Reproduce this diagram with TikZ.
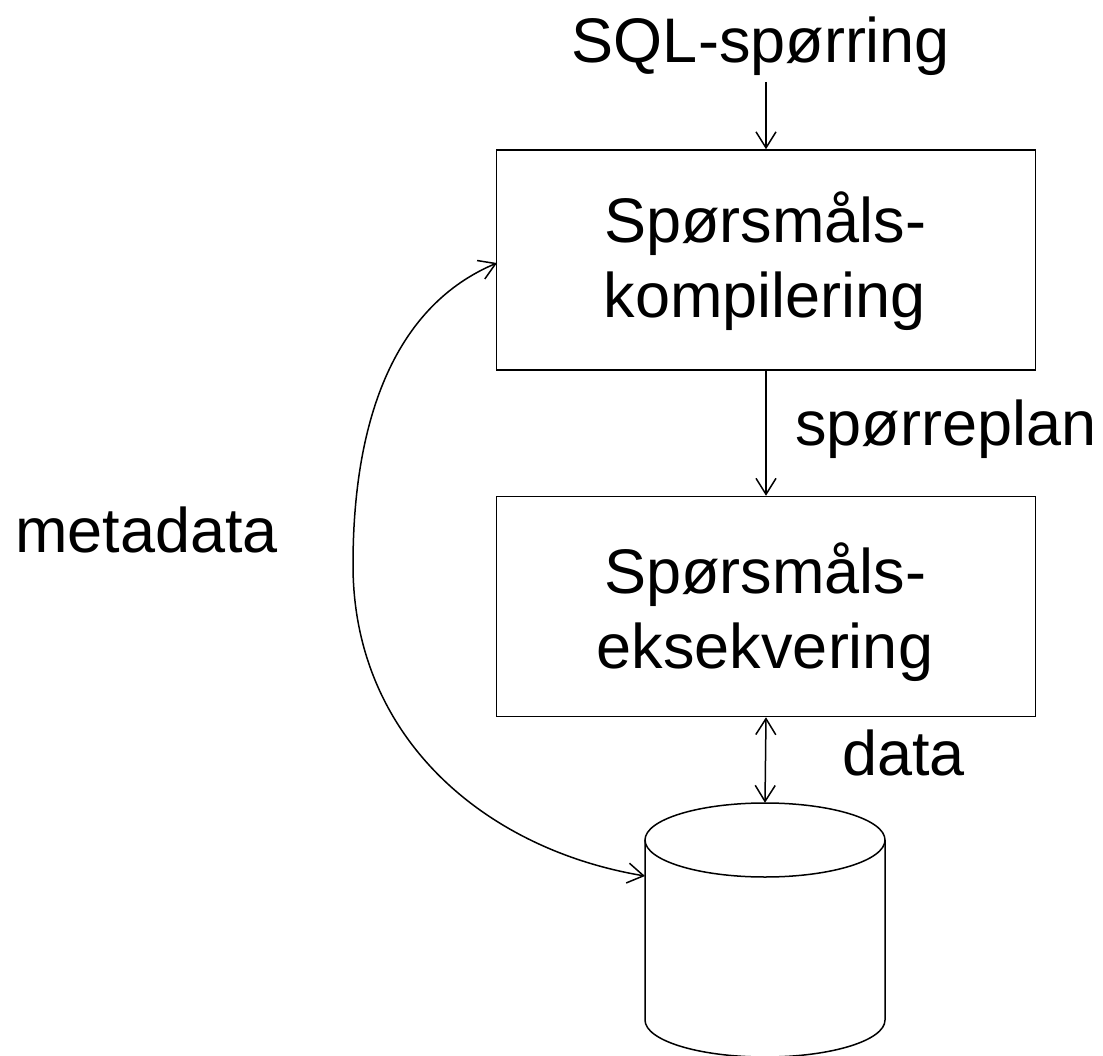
\documentclass[tikz,border=0pt]{standalone}
\usepackage{fontspec}
\setmainfont{Liberation Sans}
\usetikzlibrary{arrows.meta}
\begin{document}
\begin{tikzpicture}[x=1pt,y=-1pt,
  box/.style={draw,line width=1.5pt,minimum width=539pt,minimum height=220pt,inner sep=0pt},
  txt/.style={font=\fontsize{63}{75}\selectfont,inner sep=0pt},
  conn/.style={line width=1.5pt,-{Straight Barb[length=16pt,width=20pt]}},
  dconn/.style={line width=1.5pt,{Straight Barb[length=16pt,width=20pt]}-{Straight Barb[length=16pt,width=20pt]}},
]
\useasboundingbox (0,0) rectangle (1103,1056);
% boxes
\node[box] (comp) at (766,260) {};
\node[box] (exec) at (766,606.5) {};
% box texts
\node[txt,anchor=base] (comp1) at (765,243) {Spørsmåls-};
\node[txt,anchor=base] (comp2) at (765,318) {kompilering};
\node[txt,anchor=base] (exec1) at (765,593) {Spørsmåls-};
\node[txt,anchor=base] (exec2) at (765,668) {eksekvering};
% labels
\node[txt,anchor=base] (sql) at (761,63) {SQL-spørring};
\node[txt,anchor=base west] (plan) at (795,445) {spørreplan};
\node[txt,anchor=base west] (meta) at (15,552) {metadata};
\node[txt,anchor=base west] (data) at (842,775) {data};
% database cylinder
\node[minimum width=240pt,minimum height=254pt,inner sep=0pt] (db) at (765,930) {};
\draw[line width=1.5pt] (645,840) -- (645,1020) arc[start angle=180,end angle=0,x radius=120,y radius=37] -- (885,840);
\draw[line width=1.5pt] (765,840) ellipse[x radius=120,y radius=37];
% connectors
\coordinate (sqlend) at (766,82);
\draw[conn] (sqlend) -- (comp.north);
\draw[conn] (comp.south) -- (exec.north);
\draw[dconn] (exec.south) -- (db.north);
\coordinate (compside) at (497,263);
\coordinate (dbside) at (645,876);
\draw[dconn] (compside) .. controls (397,305) and (353,415) .. (353,565)
  .. controls (353,737) and (484,849) .. (dbside);
\end{tikzpicture}
\end{document}
